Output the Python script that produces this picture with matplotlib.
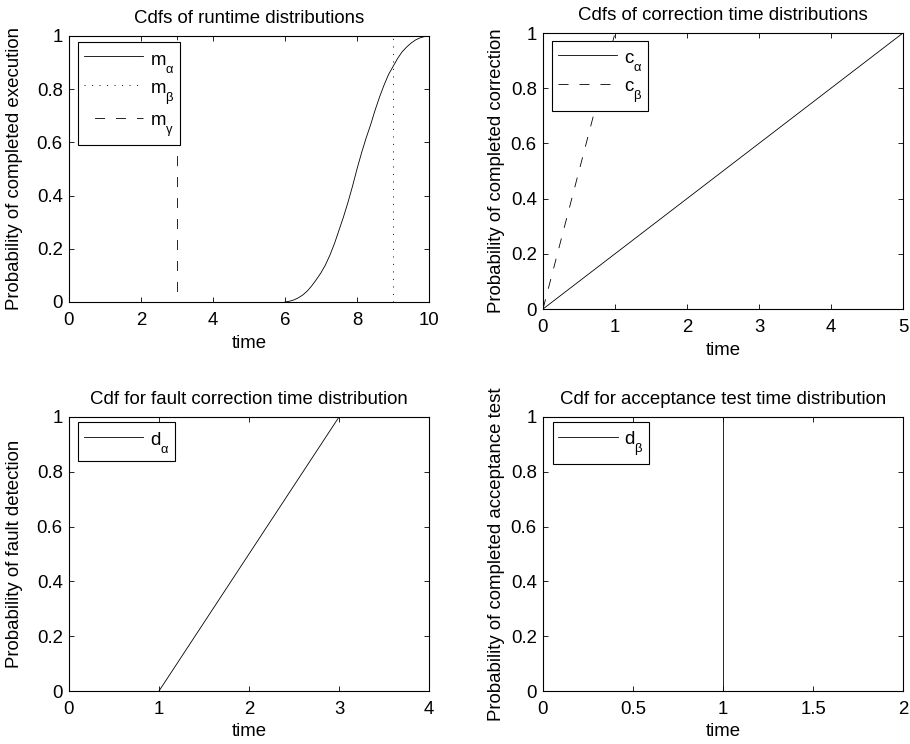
import matplotlib
matplotlib.use("Agg")
import matplotlib.pyplot as plt
import matplotlib._mathtext as mathtext_core

plt.rcParams['font.family'] = ['Liberation Sans', 'DejaVu Sans']
plt.rcParams['font.size'] = 13.4
plt.rcParams['mathtext.fontset'] = 'custom'
plt.rcParams['mathtext.rm'] = 'Liberation Sans'
plt.rcParams['mathtext.it'] = 'Liberation Sans:italic'
plt.rcParams['lines.scale_dashes'] = False
# deeper subscripts for the legend labels
mathtext_core.FontConstantsBase.sub1 = 0.8

# runtime cdfs
runtime_t = [6.0, 6.125, 6.25, 6.375, 6.5, 6.625, 6.75, 6.875, 7.0,
             7.125, 7.25, 7.375, 7.5, 7.625, 7.75, 7.875, 8.0,
             8.125, 8.25, 8.375, 8.5, 8.625, 8.75, 8.875, 9.0,
             9.125, 9.25, 9.375, 9.5, 9.625, 9.75, 9.875, 10.0]
m_alpha_cdf = [0.0, 0.003, 0.008, 0.016, 0.027, 0.042, 0.062, 0.085, 0.11,
               0.14, 0.177, 0.22, 0.27, 0.32, 0.375, 0.435, 0.50,
               0.56, 0.615, 0.665, 0.72, 0.77, 0.815, 0.855, 0.885,
               0.915, 0.94, 0.958, 0.973, 0.985, 0.993, 0.998, 1.0]
m_beta_t = [9, 9]
m_beta_cdf = [0, 1]
m_gamma_t = [3, 3]
m_gamma_cdf = [0, 1]

# correction time cdfs
c_alpha_t = [0, 5]
c_alpha_cdf = [0, 1]
c_beta_t = [0, 1]
c_beta_cdf = [0, 1]

# fault detection / acceptance test
d_alpha_t = [1, 3]
d_alpha_cdf = [0, 1]
d_beta_t = [1, 1]
d_beta_cdf = [0, 1]

W, H = 910, 744
fig = plt.figure(figsize=(W / 100, H / 100), dpi=100)


def box(l, t, r, b):
    return [l / W, 1 - b / H, (r - l) / W, (b - t) / H]


DOT = (0, (0.8, 4.6))
DASH = (7.5, (7.2, 7.9))
LW = 0.6


def style(ax, xlim, xticks, xticklabels, yticklabels, title, ylabel, ylab_x, xlab_y):
    ax.set_xlim(xlim)
    ax.set_ylim(0, 1)
    ax.set_xticks(xticks)
    ax.set_xticklabels(xticklabels)
    ax.set_yticks([0, 0.2, 0.4, 0.6, 0.8, 1])
    ax.set_yticklabels(yticklabels)
    ax.tick_params(direction='in', top=True, right=True, length=3.5, width=0.6)
    ax.tick_params(axis='x', pad=7.5)
    ax.tick_params(axis='y', pad=4.5)
    for s in ax.spines.values():
        s.set_linewidth(0.8)
    ax.set_title(title, fontsize=13.4, pad=9.5)
    ax.set_ylabel(ylabel)
    ax.set_xlabel('time')
    ax.yaxis.set_label_coords(ylab_x, 0.5)
    ax.xaxis.set_label_coords(0.5, xlab_y)


def legend(ax, dx, dy, w, h):
    leg = ax.legend(loc='upper left', bbox_to_anchor=(dx / w, 1 - dy / h),
                    borderaxespad=0, fontsize=13.4, handlelength=3.2,
                    handleheight=1.4, handletextpad=0.35, borderpad=0.3,
                    labelspacing=0.13, fancybox=False, framealpha=1,
                    edgecolor='black')
    leg.get_frame().set_linewidth(0.8)
    return leg


ylab = ['0', '0.2', '0.4', '0.6', '0.8', '1']

ax1 = fig.add_axes(box(69, 36, 429, 302))
ax1.plot(runtime_t, m_alpha_cdf, color='k', lw=LW, label='m$_\\mathrm{\\alpha}$')
ax1.plot(m_beta_t, m_beta_cdf, color='k', lw=LW, linestyle=DOT, label='m$_\\mathrm{\\beta}$')
ax1.plot(m_gamma_t, m_gamma_cdf, color='k', lw=LW, linestyle=DASH, label='m$_\\mathrm{\\gamma}$')
style(ax1, (0, 10), [0, 2, 4, 6, 8, 10], ['0', '2', '4', '6', '8', '10'], ylab,
      'Cdfs of runtime distributions', 'Probability of completed execution',
      -0.128, -0.124)
legend(ax1, 9, 6, 360, 266)

ax2 = fig.add_axes(box(543, 33, 903, 309))
ax2.plot(c_alpha_t, c_alpha_cdf, color='k', lw=LW, label='c$_\\mathrm{\\alpha}$')
ax2.plot(c_beta_t, c_beta_cdf, color='k', lw=LW, linestyle=(0, (7.2, 7.9)),
         label='c$_\\mathrm{\\beta}$')
style(ax2, (0, 5), [0, 1, 2, 3, 4, 5], ['0', '1', '2', '3', '4', '5'], ylab,
      'Cdfs of correction time distributions', 'Probability of completed correction',
      -0.105, -0.119)
legend(ax2, 9, 7.5, 360, 276)

ax3 = fig.add_axes(box(69, 417, 429, 691))
ax3.plot(d_alpha_t, d_alpha_cdf, color='k', lw=LW, label='d$_\\mathrm{\\alpha}$')
style(ax3, (0, 4), [0, 1, 2, 3, 4], ['0', '1', '2', '3', '4'], ylab,
      'Cdf for fault correction time distribution', 'Probability of fault detection',
      -0.128, -0.116)
legend(ax3, 9, 5.5, 360, 274)

ax4 = fig.add_axes(box(543, 417, 903, 691))
ax4.plot(d_beta_t, d_beta_cdf, color='k', lw=LW, label='d$_\\mathrm{\\beta}$')
style(ax4, (0, 2), [0, 0.5, 1, 1.5, 2], ['0', '0.5', '1', '1.5', '2'], ylab,
      'Cdf for acceptance test time distribution', 'Probability of completed acceptance test',
      -0.105, -0.116)
legend(ax4, 9.5, 5.5, 360, 274)

fig.savefig('out.png', dpi=100)
